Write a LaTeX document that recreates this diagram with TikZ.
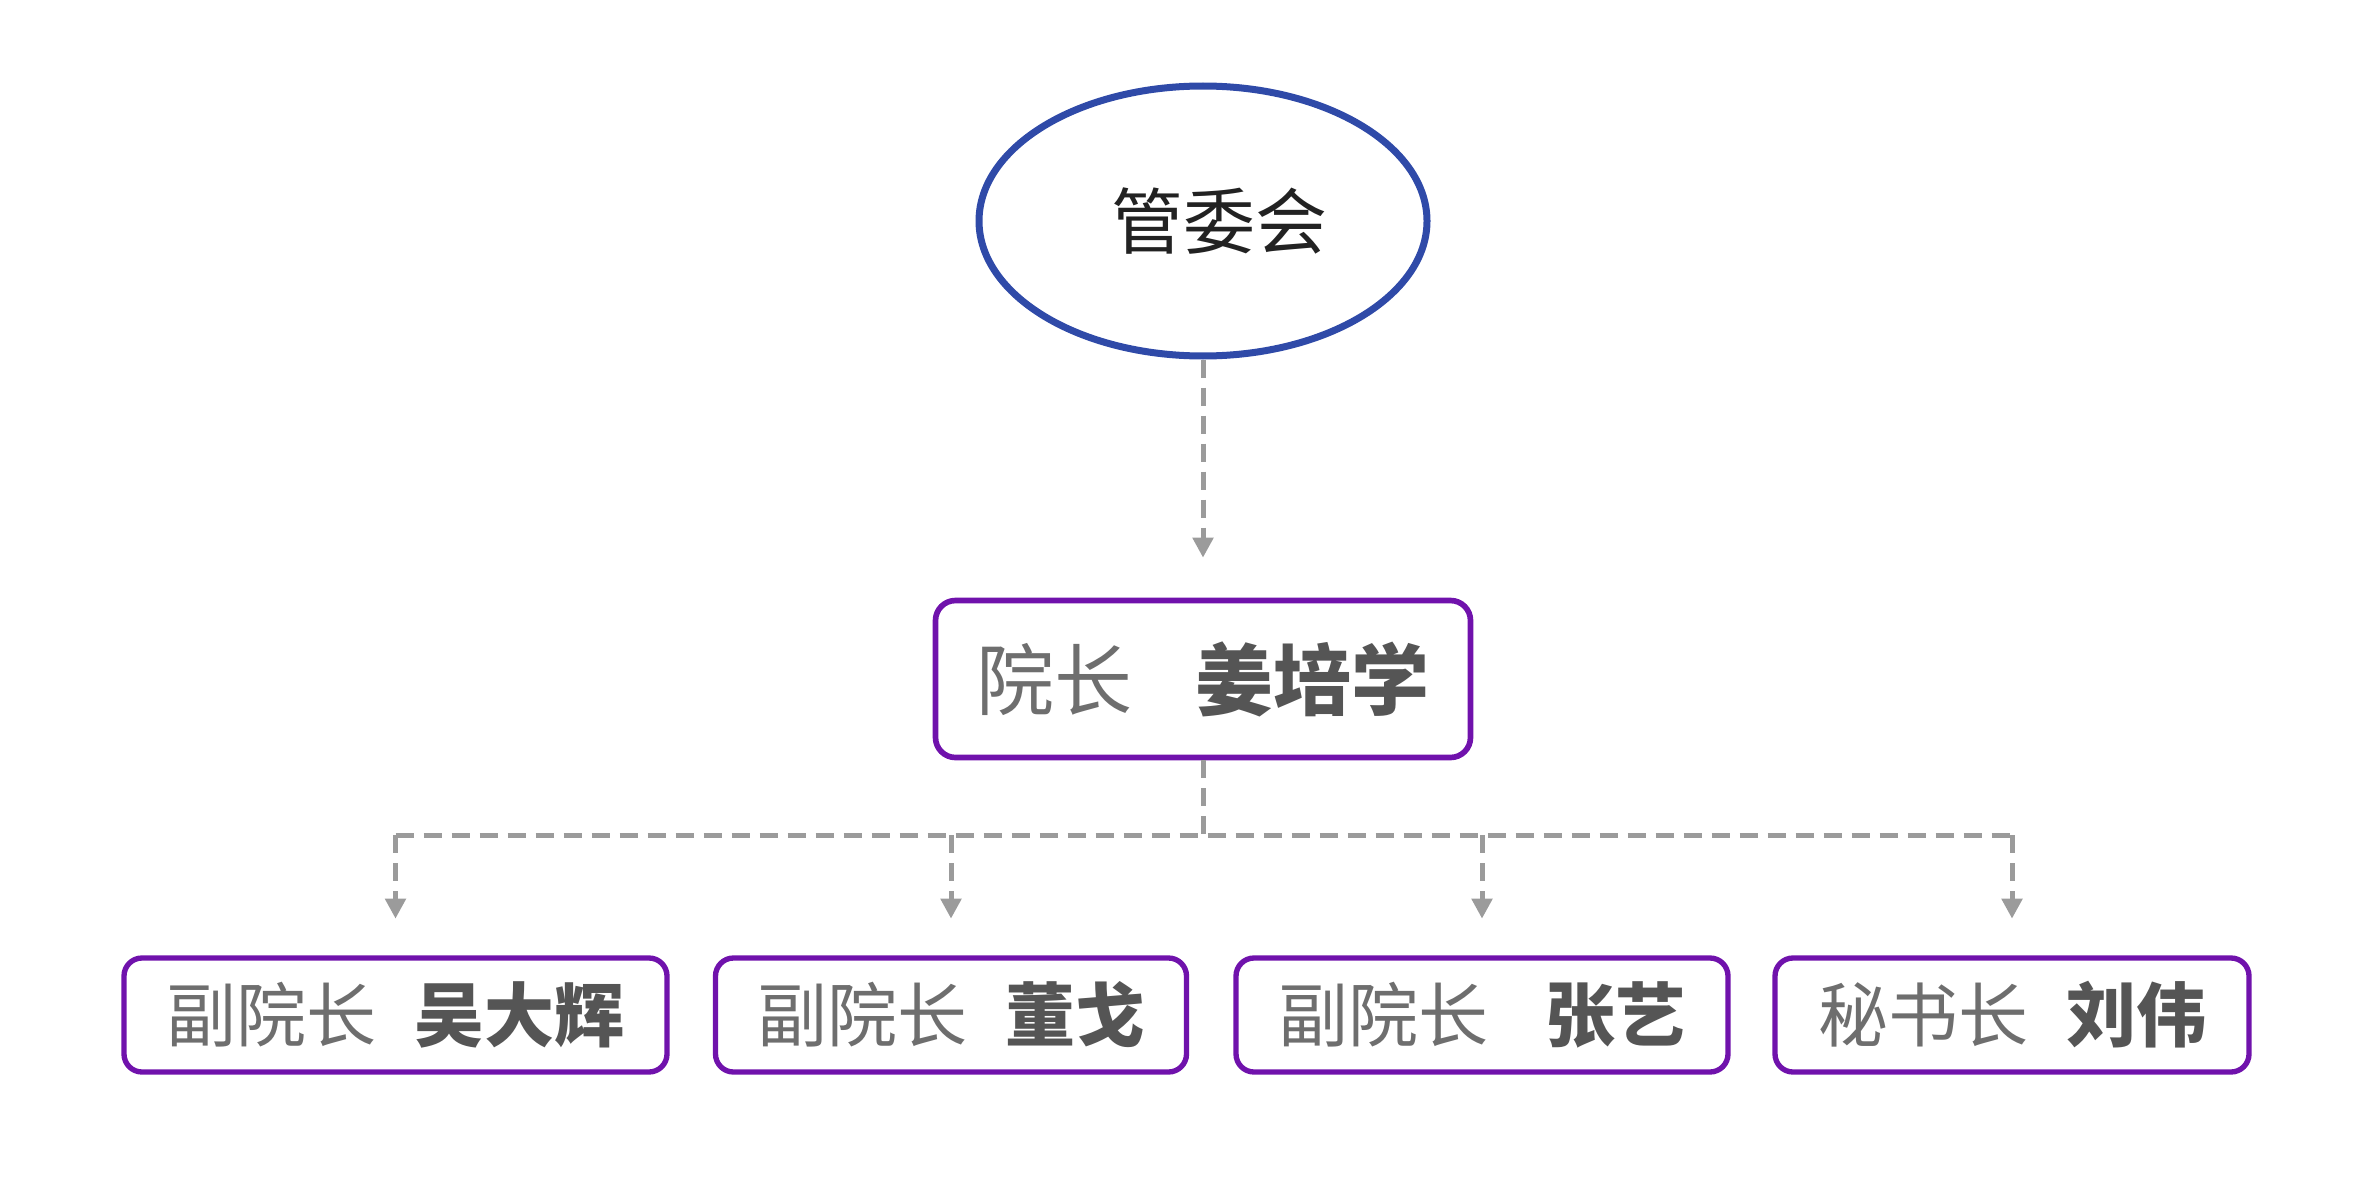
\documentclass[tikz,border=0pt]{standalone}
\usepackage{fontspec}
\newfontfamily\cjk{Noto Sans CJK SC}
\usetikzlibrary{shapes.geometric,arrows.meta}
\definecolor{eblue}{HTML}{2F4AA8}
\definecolor{bpurple}{HTML}{7012AC}
\definecolor{lgray}{HTML}{9B9B9B}
\definecolor{tgray}{HTML}{6E6E6E}
\definecolor{ngray}{HTML}{555555}
\definecolor{tblack}{HTML}{222222}
\begin{document}
\begin{tikzpicture}[x=0.3pt,y=-0.3pt,
  oval/.style={ellipse,draw=eblue,line width=2.1pt,minimum width=134.4pt,minimum height=81pt,inner sep=0pt,font=\cjk\fontsize{21.6pt}{26pt}\selectfont,text=tblack},
  headbox/.style={rectangle,rounded corners=6pt,draw=bpurple,line width=1.7pt,minimum width=160.5pt,minimum height=47.1pt,inner sep=0pt,font=\cjk\fontsize{23.4pt}{28pt}\selectfont,text=ngray},
  subbox/.style={rectangle,rounded corners=5.4pt,draw=bpurple,line width=1.6pt,minimum height=34.2pt,inner sep=0pt,font=\cjk\fontsize{21pt}{25pt}\selectfont,text=ngray},
  conn/.style={draw=lgray,line width=1.5pt,dash pattern=on 5.4pt off 3pt},
  arr/.style={conn,-{Triangle[length=6pt,width=6pt]}},
  role/.style={text=tgray}
]
\path[use as bounding box] (0,0) rectangle (2378,1189);
\node[oval] (gwh) at (1203,221) {\hspace*{10pt}管委会};
\node[headbox] (yz) at (1203,679) {{\color{tgray}院长}\hspace{19pt}{\bfseries 姜培学}};
\node[subbox,minimum width=162.9pt] (f1) at (395.5,1015) {{\color{tgray}副院长}\hspace{11.4pt}{\bfseries 吴大辉}};
\node[subbox,minimum width=141.3pt] (f2) at (951,1015) {{\color{tgray}副院长}\hspace{11.4pt}{\bfseries 董戈}};
\node[subbox,minimum width=147.6pt] (f3) at (1482,1015) {{\color{tgray}副院长}\hspace{17pt}{\bfseries 张艺}};
\node[subbox,minimum width=142.2pt] (f4) at (2012,1015) {{\color{tgray}秘书长}\hspace{11.4pt}{\bfseries 刘伟}};
\draw[arr,shorten >=12pt] (gwh.south) -- (gwh.south |- yz.north);
\draw[conn] (yz.south) -- ++(0,75) coordinate (j);
\draw[conn] (j -| f1.north) -- (j -| f4.north);
\foreach \n in {f1,f2,f3,f4}
  \draw[arr,shorten >=11pt] (j -| \n.north) -- (\n.north);
\end{tikzpicture}
\end{document}
